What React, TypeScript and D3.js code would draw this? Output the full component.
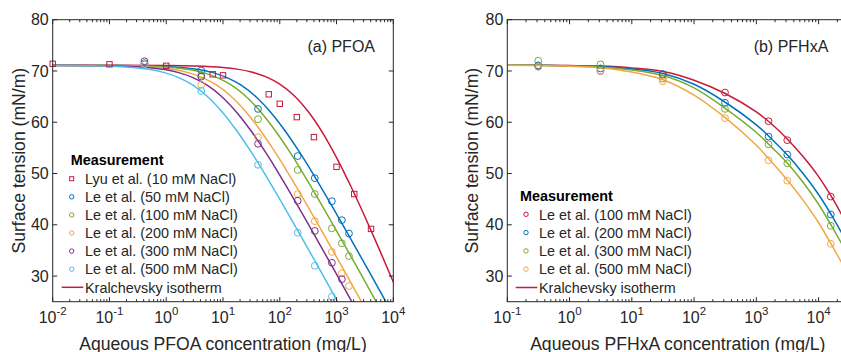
import React from "react";
import * as d3 from "d3";

// ---------- DATA ----------
// (a) PFOA
const lyuConc = [0.01, 0.1, 1, 6.6, 10, 64, 100, 200, 400, 1000, 2050, 4050];
const lyuGamma = [71.4, 71.3, 71.0, 69.35, 69.15, 65.45, 63.6, 61.0, 57.1, 51.3, 46.0, 39.2];

const pfoaLeConc = [0.414, 4.14, 41.4, 207, 414, 828, 1242, 1656];
const pfoaLe50 = [71.5, 70.1, 62.6, 53.4, 49.1, 44.6, 40.9, 38.3];
const pfoaLe100 = [71.3, 69.2, 60.6, 50.7, 46.0, 39.3, 36.4, 33.9];
const pfoaLe200 = [71.4, 67.3, 57.1, 46.0, 40.7, 34.7, 30.55, 28.05];
const pfoaLe300 = [71.9, 68.9, 55.8, 44.7, 38.8, 32.6, 29.4, null];
const pfoaLe500 = [71.3, 66.1, 51.7, 38.45, 32.0, 26.0, null, null];

// fitted isotherm curves (log10 concentration, surface tension)
const fitLeGamma = [71.1, 71.07, 71.01, 70.83, 70.62, 70.27, 69.68, 68.71, 67.22, 65.07, 62.21, 58.69, 54.65, 50.24, 40.78, 30.95, 20.99, 11.0];
const fit50Log = [-2.43, -0.93, -0.43, 0.07, 0.32, 0.57, 0.82, 1.07, 1.32, 1.57, 1.82, 2.07, 2.32, 2.57, 3.07, 3.57, 4.07, 4.57];
const fit100Log = [-2.6, -1.1, -0.6, -0.1, 0.15, 0.4, 0.65, 0.9, 1.15, 1.4, 1.65, 1.9, 2.15, 2.4, 2.9, 3.4, 3.9, 4.4];
const fit200Log = [-2.86, -1.36, -0.86, -0.36, -0.11, 0.14, 0.39, 0.64, 0.89, 1.14, 1.39, 1.64, 1.89, 2.14, 2.64, 3.14, 3.64, 4.14];
const fit300Log = [-3.03, -1.53, -1.03, -0.53, -0.28, -0.03, 0.22, 0.47, 0.72, 0.97, 1.22, 1.47, 1.72, 1.97, 2.47, 2.97, 3.47, 3.97];
const fit500Log = [-3.28, -1.78, -1.28, -0.78, -0.53, -0.28, -0.03, 0.22, 0.47, 0.72, 0.97, 1.22, 1.47, 1.72, 2.22, 2.72, 3.22, 3.72];
const fit10Log = [-2.5, -1, 0, 0.5, 1, 1.25, 1.5, 1.75, 2, 2.25, 2.5, 2.75, 3, 3.25, 3.5, 3.75, 4, 4.25];
const fit10Gamma = [71.1, 71.1, 71.06, 70.96, 70.68, 70.36, 69.81, 68.9, 67.43, 65.22, 62.09, 58.02, 53.11, 47.56, 41.57, 35.3, 28.85, 22.3];

// (b) PFHxA
const pfhxaConc = [0.314, 3.14, 31.4, 314, 1570, 3140, 15700];
const pfhxa100 = [70.9, 70.0, 69.3, 65.8, 60.2, 56.5, 45.5];
const pfhxa200 = [71.1, 70.5, 69.4, 63.8, 57.2, 53.7, 42.0];
const pfhxa300 = [72.0, 71.3, 68.5, 62.6, 55.7, 52.0, 39.8];
const pfhxa500 = [70.8, 70.0, 68.0, 60.8, 52.6, 48.6, 36.3];

const fitBLog = [-1, -0.5, 0, 0.5, 1, 1.5, 2, 2.5, 3, 3.25, 3.5, 3.75, 4, 4.25, 4.5];
const fitB100 = [71.1, 71.1, 71.05, 70.95, 70.6, 69.9, 68.2, 65.6, 62.0, 59.6, 56.7, 53.3, 49.4, 44.6, 39.0];
const fitB200 = [71.1, 71.1, 71.0, 70.85, 70.4, 69.5, 67.4, 63.9, 59.5, 56.7, 53.6, 50.0, 45.9, 41.0, 35.5];
const fitB300 = [71.1, 71.1, 70.95, 70.75, 70.2, 69.1, 66.7, 62.7, 58.0, 55.1, 52.0, 48.3, 44.0, 38.9, 33.5];
const fitB500 = [71.1, 71.05, 70.9, 70.6, 69.8, 68.3, 65.3, 60.9, 55.5, 52.2, 48.7, 44.8, 40.4, 35.2, 29.8];

const yTicks = [30, 40, 50, 60, 70, 80];

const legendA = [
  "Lyu et al. (10 mM NaCl)",
  "Le et al. (50 mM NaCl)",
  "Le et al. (100 mM NaCl)",
  "Le et al. (200 mM NaCl)",
  "Le et al. (300 mM NaCl)",
  "Le et al. (500 mM NaCl)",
];
const legendB = [
  "Le et al. (100 mM NaCl)",
  "Le et al. (200 mM NaCl)",
  "Le et al. (300 mM NaCl)",
  "Le et al. (500 mM NaCl)",
];

// ---------- STYLE ----------
const RED = "#C8193C";
const BLUE = "#0072BD";
const GREEN = "#77AC30";
const ORANGE = "#F2A745";
const PURPLE = "#7E2F8E";
const CYAN = "#4DBEEE";
const AX = "#262626";
const FONT = "'Liberation Sans', Arial, Helvetica, sans-serif";

type Panel = {
  id: string;
  x0: number;
  x1: number;
  y0: number;
  y1: number;
  dom: [number, number];
};

const W = 841;
const H = 352;

function Axes({ p, xTitle, yTitleX }: { p: Panel; xTitle: string; yTitleX: number }) {
  const xs = d3.scaleLog().domain(p.dom).range([p.x0, p.x1]);
  const ys = d3.scaleLinear().domain([25, 80]).range([p.y1, p.y0]);
  const lo = Math.floor(Math.log10(p.dom[0]));
  const hi = Math.ceil(Math.log10(p.dom[1]));
  const major: number[] = [];
  const minor: number[] = [];
  for (let e = lo; e <= hi; e++) {
    const b = Math.pow(10, e);
    if (b >= p.dom[0] * 0.999 && b <= p.dom[1] * 1.001) major.push(e);
    for (let k = 2; k <= 9; k++) {
      const v = k * b;
      if (v > p.dom[0] && v < p.dom[1] * 1.001) minor.push(v);
    }
  }
  const MJ = 4.5;
  const MN = 2.5;
  return (
    <g>
      <rect x={p.x0} y={p.y0} width={p.x1 - p.x0} height={p.y1 - p.y0} fill="none" stroke={AX} strokeWidth={1} />
      {major.map((e) => {
        const x = xs(Math.pow(10, e));
        return (
          <g key={"M" + e}>
            <line x1={x} x2={x} y1={p.y1} y2={p.y1 - MJ} stroke={AX} />
            <line x1={x} x2={x} y1={p.y0} y2={p.y0 + MJ} stroke={AX} />
            <text x={x} y={322.5} textAnchor="middle" fontSize={16} fill={AX} fontFamily={FONT}>
              10
              <tspan dy={-8} fontSize={11.5}>{String(e)}</tspan>
            </text>
          </g>
        );
      })}
      {minor.map((v, i) => {
        const x = xs(v);
        return (
          <g key={"m" + i}>
            <line x1={x} x2={x} y1={p.y1} y2={p.y1 - MN} stroke={AX} />
            <line x1={x} x2={x} y1={p.y0} y2={p.y0 + MN} stroke={AX} />
          </g>
        );
      })}
      {yTicks.map((t) => {
        const y = ys(t);
        return (
          <g key={"y" + t}>
            <line x1={p.x0} x2={p.x0 + MJ} y1={y} y2={y} stroke={AX} />
            <line x1={p.x1} x2={p.x1 - MJ} y1={y} y2={y} stroke={AX} />
            <text x={p.x0 - 4} y={y + 5.7} textAnchor="end" fontSize={16} fill={AX} fontFamily={FONT}>
              {t}
            </text>
          </g>
        );
      })}
      <text x={(p.x0 + p.x1) / 2} y={350.3} textAnchor="middle" fontSize={17.6} fill={AX} fontFamily={FONT}>
        {xTitle}
      </text>
      <text
        transform={`translate(${yTitleX},${(p.y0 + p.y1) / 2}) rotate(-90)`}
        textAnchor="middle"
        dy="0.36em"
        fontSize={17.6}
        fill={AX}
        fontFamily={FONT}
      >
        Surface tension (mN/m)
      </text>
    </g>
  );
}

function Marker({ x, y, c, sq, s }: { x: number; y: number; c: string; sq?: boolean; s: number }) {
  if (sq) return <rect x={x - s} y={y - s} width={2 * s} height={2 * s} fill="none" stroke={c} strokeWidth={1} />;
  return <circle cx={x} cy={y} r={s} fill="none" stroke={c} strokeWidth={1} />;
}

export default function App() {
  const pA: Panel = { id: "a", x0: 52.7, x1: 393.3, y0: 19.7, y1: 301.7, dom: [0.01, 1e4] };
  const pB: Panel = { id: "b", x0: 507.3, x1: 848.3, y0: 19.7, y1: 301.7, dom: [0.1, 3e4] };
  const ys = d3.scaleLinear().domain([25, 80]).range([pA.y1, pA.y0]);
  const xA = d3.scaleLog().domain(pA.dom).range([pA.x0, pA.x1]);
  const xB = d3.scaleLog().domain(pB.dom).range([pB.x0, pB.x1]);

  const mkLine = (xs: d3.ScaleLogarithmic<number, number>) =>
    d3
      .line<[number, number]>()
      .x((d) => xs(Math.pow(10, d[0])))
      .y((d) => ys(d[1]))
      .curve(d3.curveCatmullRom.alpha(0.5));
  const lineA = mkLine(xA);
  const lineB = mkLine(xB);
  const zip = (a: number[], b: number[]) => a.map((v, i) => [v, b[i]] as [number, number]);

  const curvesA = [
    { c: RED, d: zip(fit10Log, fit10Gamma) },
    { c: BLUE, d: zip(fit50Log, fitLeGamma) },
    { c: GREEN, d: zip(fit100Log, fitLeGamma) },
    { c: ORANGE, d: zip(fit200Log, fitLeGamma) },
    { c: PURPLE, d: zip(fit300Log, fitLeGamma) },
    { c: CYAN, d: zip(fit500Log, fitLeGamma) },
  ];
  const pointsA = [
    { c: RED, sq: true, x: lyuConc, y: lyuGamma as (number | null)[] },
    { c: BLUE, sq: false, x: pfoaLeConc, y: pfoaLe50 as (number | null)[] },
    { c: GREEN, sq: false, x: pfoaLeConc, y: pfoaLe100 as (number | null)[] },
    { c: ORANGE, sq: false, x: pfoaLeConc, y: pfoaLe200 as (number | null)[] },
    { c: PURPLE, sq: false, x: pfoaLeConc, y: pfoaLe300 as (number | null)[] },
    { c: CYAN, sq: false, x: pfoaLeConc, y: pfoaLe500 as (number | null)[] },
  ];
  const curvesB = [
    { c: RED, d: zip(fitBLog, fitB100) },
    { c: BLUE, d: zip(fitBLog, fitB200) },
    { c: GREEN, d: zip(fitBLog, fitB300) },
    { c: ORANGE, d: zip(fitBLog, fitB500) },
  ];
  const pointsB = [
    { c: RED, x: pfhxaConc, y: pfhxa100 },
    { c: BLUE, x: pfhxaConc, y: pfhxa200 },
    { c: GREEN, x: pfhxaConc, y: pfhxa300 },
    { c: ORANGE, x: pfhxaConc, y: pfhxa500 },
  ];
  const ROW = 18.1;

  return (
    <svg
      width={W}
      height={H}
      viewBox={`0 0 ${W} ${H}`}
      style={{ position: "absolute", left: 0, top: 0, background: "#fff" }}
      fontFamily={FONT}
    >
      <defs>
        <clipPath id="clipA">
          <rect x={pA.x0} y={pA.y0} width={pA.x1 - pA.x0} height={pA.y1 - pA.y0} />
        </clipPath>
        <clipPath id="clipB">
          <rect x={pB.x0} y={pB.y0} width={pB.x1 - pB.x0} height={pB.y1 - pB.y0} />
        </clipPath>
      </defs>
      <rect x={0} y={0} width={W} height={H} fill="#fff" />

      {/* Panel (a) */}
      <g clipPath="url(#clipA)">
        {curvesA.map((s, i) => (
          <path key={i} d={lineA(s.d) || ""} fill="none" stroke={s.c} strokeWidth={1.5} />
        ))}
      </g>
      {pointsA.map((s, i) => (
        <g key={i}>
          {s.x.map((cx, j) =>
            s.y[j] == null ? null : (
              <Marker key={j} x={xA(cx)} y={ys(s.y[j] as number)} c={s.c} sq={s.sq} s={s.sq ? 2.7 : 3.4} />
            )
          )}
        </g>
      ))}
      <Axes p={pA} xTitle="Aqueous PFOA concentration (mg/L)" yTitleX={18.4} />
      <text x={375} y={51.7} textAnchor="end" fontSize={16} fill={AX}>
        (a) PFOA
      </text>
      {/* legend (a) */}
      <text x={70.7} y={164.5} fontSize={14.4} fontWeight="bold" fill="#000">
        Measurement
      </text>
      {legendA.map((t, i) => {
        const cy = 178.7 + ROW * i;
        return (
          <g key={t}>
            <Marker x={71.7} y={cy} c={pointsA[i].c} sq={pointsA[i].sq} s={pointsA[i].sq ? 2 : 2.2} />
            <text x={85} y={cy + 5.2} fontSize={14.4} fill={AX}>
              {t}
            </text>
          </g>
        );
      })}
      <line x1={61.7} x2={83.3} y1={178.7 + ROW * 6} y2={178.7 + ROW * 6} stroke={RED} strokeWidth={1.5} />
      <text x={85} y={178.7 + ROW * 6 + 5.2} fontSize={14.4} fill={AX}>
        Kralchevsky isotherm
      </text>

      {/* Panel (b) */}
      <g clipPath="url(#clipB)">
        {curvesB.map((s, i) => (
          <path key={i} d={lineB(s.d) || ""} fill="none" stroke={s.c} strokeWidth={1.5} />
        ))}
      </g>
      {pointsB.map((s, i) => (
        <g key={i}>
          {s.x.map((cx, j) => (
            <Marker key={j} x={xB(cx)} y={ys(s.y[j])} c={s.c} s={3.4} />
          ))}
        </g>
      ))}
      <Axes p={pB} xTitle="Aqueous PFHxA concentration (mg/L)" yTitleX={471.7} />
      <text x={828.3} y={51.7} textAnchor="end" fontSize={16} fill={AX}>
        (b) PFHxA
      </text>
      <text x={520} y={200.5} fontSize={14.4} fontWeight="bold" fill="#000">
        Measurement
      </text>
      {legendB.map((t, i) => {
        const cy = 214.3 + 18.3 * i;
        return (
          <g key={t}>
            <Marker x={526} y={cy} c={pointsB[i].c} s={2.2} />
            <text x={539} y={cy + 5.2} fontSize={14.4} fill={AX}>
              {t}
            </text>
          </g>
        );
      })}
      <line x1={515.7} x2={537.3} y1={214.3 + 18.3 * 4} y2={214.3 + 18.3 * 4} stroke={RED} strokeWidth={1.5} />
      <text x={539} y={214.3 + 18.3 * 4 + 5.2} fontSize={14.4} fill={AX}>
        Kralchevsky isotherm
      </text>
    </svg>
  );
}
